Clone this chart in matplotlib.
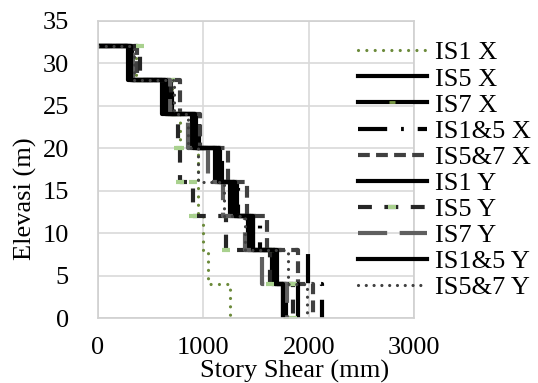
import matplotlib.pyplot as plt

plt.rcParams['font.family'] = ['Liberation Serif', 'DejaVu Serif']
plt.rcParams['lines.scale_dashes'] = False

# story elevations (m) and story shear per story, bottom (story 1) to top (story 8)
elev = [0, 4, 8, 12, 16, 20, 24, 28, 32]
is1_x = [1255, 1045, 995, 950, 945, 778, 700, 360]
is5_x = [1756, 1650, 1450, 1290, 1130, 905, 640, 300]
is7_x = [1780, 1680, 1470, 1320, 1160, 930, 660, 320]
is15_x = [2127, 1994, 1538, 1330, 1177, 960, 700, 335]
is57_x = [2041, 1899, 1604, 1414, 1234, 968, 778, 370]
is1_y = [1899, 1680, 1424, 1253, 1110, 892, 608, 285]
is5_y = [1850, 1633, 1215, 902, 778, 760, 690, 400]
is7_y = [1794, 1557, 1396, 1187, 1044, 854, 684, 330]
is15_y = [1760, 1700, 1472, 1300, 1150, 920, 650, 310]
is57_y = [1985, 1804, 1396, 1200, 950, 854, 720, 340]

labels = ['IS1 X', 'IS5 X', 'IS7 X', 'IS1&5 X', 'IS5&7 X',
          'IS1 Y', 'IS5 Y', 'IS7 Y', 'IS1&5 Y', 'IS5&7 Y']
series = [is1_x, is5_x, is7_x, is15_x, is57_x,
          is1_y, is5_y, is7_y, is15_y, is57_y]

styles = [
    dict(color='#6B8A3A', lw=2.3, dashes=(0.01, 6.0), dash_capstyle='round'),
    dict(color='black', lw=3),
    dict(color='black', lw=3, marker='_', ms=4, mec='#7A9A45', mew=2),
    dict(color='black', lw=3, dashes=(21, 10, 2, 10)),
    dict(color='#404040', lw=3, dashes=(8.5, 4.5)),
    dict(color='black', lw=3),
    dict(color='#262626', lw=3, dashes=(10, 9), marker='_', ms=6, mec='#A9D18E', mew=3),
    dict(color='#5F5F5F', lw=3, dashes=(21, 9)),
    dict(color='black', lw=3),
    dict(color='#404040', lw=2.3, dashes=(0.01, 5.6), dash_capstyle='round'),
]


def steps(vals):
    # top goes out from zero, then each story drawn as a vertical at its shear
    xs = [0]
    ys = [elev[-1]]
    for i in range(len(vals) - 1, -1, -1):
        xs += [vals[i], vals[i]]
        ys += [elev[i + 1], elev[i]]
    return xs, ys


fig = plt.figure(figsize=(5.38, 3.83), dpi=100)
ax = fig.add_axes([0.1822, 0.1697, 0.5874, 0.7755])

for vals, lab, st in zip(series, labels, styles):
    xs, ys = steps(vals)
    ax.plot(xs, ys, label=lab, **st)

ax.set_xlim(0, 3000)
ax.set_ylim(0, 35)
ax.set_xticks([0, 1000, 2000, 3000])
ax.set_yticks(range(0, 36, 5))
ax.grid(color='#D9D9D9', lw=1.2)
ax.set_axisbelow(True)
for s in ax.spines.values():
    s.set_color('#D0D0D0')
    s.set_linewidth(1.2)
ax.tick_params(length=0, labelsize=19)
ax.tick_params(axis='x', pad=14)
ax.tick_params(axis='y', pad=21)

fig.text(0.548, 0.03, 'Story Shear (mm)', fontsize=19, ha='center', va='center')
fig.text(0.047, 0.48, 'Elevasi (m)', fontsize=19, ha='center', va='center', rotation=90)

ax.legend(loc='upper left', bbox_to_anchor=(0.6654, 0.893), bbox_transform=fig.transFigure,
          frameon=False, fontsize=19, borderpad=0, borderaxespad=0, handlelength=2.6,
          handletextpad=0.3, labelspacing=0.1)

fig.savefig('out.png', dpi=100)
